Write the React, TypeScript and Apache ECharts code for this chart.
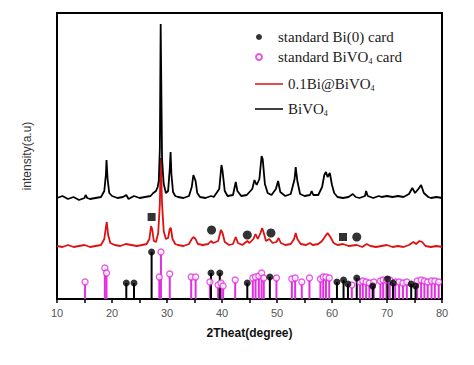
import React, { useEffect, useRef } from "react";
import * as echarts from "echarts";

// BiVO4 measured pattern (2θ, intensity a.u., offset curve)
const bivo4Curve: [number, number][] = [
  [10, 101], [11, 103], [12, 100], [13, 102], [14, 99], [15, 101], [15.2, 104], [15.5, 101], [16, 100], [17, 101], [18, 102],
  [18.6, 108], [18.9, 125], [19.0, 139], [19.2, 120], [19.5, 106], [20, 103], [21, 101], [22, 102], [22.6, 104], [23, 100],
  [24, 103], [25, 101], [26, 102], [27, 103], [27.5, 106], [28.0, 108], [28.3, 112], [28.5, 118], [28.7, 150], [28.85, 275],
  [28.95, 275], [29.1, 140], [29.4, 115], [29.8, 106], [30.2, 108], [30.5, 130], [30.65, 147], [30.8, 125], [31.1, 107],
  [31.5, 103], [32, 102], [33, 101], [34, 103], [34.5, 112], [34.8, 124], [35.2, 118], [35.5, 106], [36, 102], [37, 101],
  [38, 103], [38.5, 102], [39.5, 110], [39.9, 134], [40.1, 128], [40.5, 108], [41, 103], [42, 104], [42.5, 117], [42.8, 108],
  [43.5, 103], [44.5, 104], [45.5, 110], [45.9, 119], [46.3, 114], [46.8, 120], [47.2, 143], [47.4, 140], [47.8, 115],
  [48.3, 106], [49, 104], [49.8, 110], [50.2, 118], [50.6, 107], [51.5, 103], [52.5, 105], [53.2, 120], [53.4, 132],
  [53.7, 118], [54.2, 105], [55, 103], [56, 104], [56.3, 108], [56.6, 104], [57.5, 104], [58.2, 112], [58.6, 124],
  [58.9, 127], [59.2, 122], [59.6, 126], [60, 114], [60.4, 106], [61, 102], [62, 101], [63, 102], [63.8, 105], [64.3, 102],
  [65, 101], [66, 103], [66.2, 108], [66.5, 103], [67.5, 101], [68.5, 103], [69, 102], [70, 103], [71, 102], [72, 103],
  [73, 102], [74, 105], [74.6, 111], [75.1, 106], [75.7, 110], [76.2, 114], [76.7, 106], [77.5, 102], [78, 101], [79, 102], [80, 101],
];

// 0.1Bi@BiVO4 measured pattern
const compositeCurve: [number, number][] = [
  [10, 53], [11, 52], [12, 54], [13, 52], [14, 53], [15, 54], [16, 52], [17, 53], [18, 54], [18.6, 60], [18.9, 72], [19.05, 77],
  [19.3, 64], [19.7, 56], [20.5, 54], [21.5, 53], [22.5, 55], [23.5, 54], [24.5, 53], [25.5, 54], [26.3, 55], [26.8, 60],
  [27.1, 73], [27.3, 70], [27.6, 58], [28.0, 57], [28.4, 66], [28.7, 95], [28.85, 141], [28.95, 141], [29.1, 95], [29.4, 68],
  [29.8, 60], [30.2, 61], [30.5, 70], [30.7, 71], [31.0, 60], [31.5, 55], [32, 54], [33, 53], [34, 55], [34.5, 60], [34.8, 62],
  [35.2, 60], [35.6, 55], [36.5, 54], [37.5, 55], [38.0, 58], [38.4, 56], [39.3, 58], [39.8, 69], [40.1, 66], [40.5, 57],
  [41.3, 54], [42.0, 55], [42.5, 62], [42.9, 56], [43.7, 54], [44.6, 58], [45.0, 56], [45.7, 60], [46.1, 65], [46.5, 60],
  [47.0, 66], [47.3, 71], [47.6, 66], [48.0, 58], [48.6, 60], [49.2, 56], [49.9, 57], [50.3, 61], [50.7, 56], [51.5, 54],
  [52.5, 55], [53.1, 60], [53.4, 66], [53.7, 60], [54.3, 55], [55.3, 54], [56.0, 56], [56.5, 54], [57.5, 55], [58.2, 58],
  [58.8, 63], [59.2, 66], [59.7, 62], [60.3, 56], [61, 54], [62, 55], [63, 53], [64.5, 54], [65.5, 52], [66.3, 55], [67, 53],
  [68, 52], [69, 53], [70, 54], [71, 52], [72, 53], [73, 52], [74, 54], [74.8, 57], [75.3, 55], [75.9, 58], [76.4, 57],
  [77, 53], [78, 52], [79, 53], [80, 52],
];

// Standard card stick patterns (2θ, relative height)
const biCard: [number, number][] = [
  [22.6, 16], [24.0, 16], [27.2, 47], [38.0, 26], [39.6, 26], [44.6, 16], [48.7, 22], [60.9, 17], [62.1, 19], [62.9, 15],
  [64.5, 21], [67.4, 13], [70.1, 20], [71.1, 16], [74.4, 15], [75.2, 13],
];
const bivo4Card: [number, number][] = [
  [15.1, 17], [18.7, 31], [19.0, 26], [28.6, 22], [28.9, 47], [30.5, 25], [34.4, 22], [35.2, 22], [37.8, 17], [39.3, 14],
  [39.8, 16], [40.2, 13], [42.4, 19], [45.6, 21], [46.1, 22], [46.7, 23], [47.2, 26], [47.6, 21], [49.9, 21], [52.7, 20],
  [53.3, 21], [54.5, 17], [55.9, 21], [57.9, 20], [58.4, 22], [58.9, 22], [59.5, 21], [63.6, 14], [65.1, 17], [65.6, 18],
  [66.2, 17], [66.8, 16], [67.6, 17], [68.8, 18], [69.3, 19], [69.9, 19], [70.5, 19], [71.5, 17], [72.2, 17], [72.9, 16],
  [73.6, 17], [75.5, 18], [76.2, 19], [76.8, 18], [77.4, 17], [78.1, 18], [78.7, 18], [79.4, 17],
];

// Phase markers above the composite curve
const squareMarks: [number, number][] = [[27.2, 82], [62.0, 62]];
const dotMarks: [number, number][] = [[38.1, 69], [44.6, 64], [48.9, 66], [64.5, 62]];

const xTickLabels = [10, 20, 30, 40, 50, 60, 70, 80];

const NAME_BI = "standard Bi(0) card";
const NAME_BIVO4 = "standard BiVO4 card";
const NAME_COMP = "0.1Bi@BiVO4";
const NAME_PURE = "BiVO4";

const MAGENTA = "#e22ee2";

function stickSeries(data: [number, number][], color: string, name: string) {
  return {
    type: "custom",
    name,
    data,
    encode: { x: 0, y: 1 },
    renderItem: (params: any, api: any) => {
      const top = api.coord([api.value(0), api.value(1)]);
      const base = api.coord([api.value(0), 0]);
      return {
        type: "line",
        shape: { x1: top[0], y1: top[1], x2: base[0], y2: base[1] },
        style: { stroke: color, lineWidth: 2 },
      };
    },
  };
}

export default function App() {
  const ref = useRef<HTMLDivElement>(null);
  useEffect(() => {
    if (!ref.current) return;
    const chart = echarts.init(ref.current, null, { renderer: "svg" });
    const legendText = {
      fontFamily: "Liberation Serif",
      fontSize: 15,
      color: "#222",
      lineHeight: 16,
      rich: {
        sub: { fontFamily: "Liberation Serif", fontSize: 8, lineHeight: 6, verticalAlign: "bottom", color: "#222" },
      },
    };
    const fmt = (n: string) => n.replace(/VO4/g, "VO{sub|4}");
    chart.setOption({
      animation: false,
      backgroundColor: "#fff",
      grid: { left: 49, right: 40, top: 5, bottom: 74, show: true, borderColor: "#000", borderWidth: 2 },
      legend: [
        {
          data: [NAME_BI, NAME_BIVO4],
          orient: "vertical",
          left: 242,
          top: 16,
          itemWidth: 28,
          itemHeight: 6,
          itemGap: 4,
          textStyle: legendText,
          formatter: fmt,
        },
        {
          data: [
            { name: NAME_COMP, icon: "rect" },
            { name: NAME_PURE, icon: "rect" },
          ],
          orient: "vertical",
          left: 242,
          top: 63,
          itemWidth: 28,
          itemHeight: 1.5,
          itemGap: 9,
          textStyle: legendText,
          formatter: fmt,
        },
      ],
      xAxis: {
        type: "value",
        min: 10,
        max: 80,
        interval: 5,
        axisLine: { lineStyle: { color: "#000", width: 2 } },
        axisTick: { show: true, length: 4, lineStyle: { color: "#000", width: 1.5 } },
        axisLabel: {
          formatter: (v: number) => (xTickLabels.includes(v) ? String(v) : ""),
          color: "#555",
          fontSize: 11,
          fontFamily: "Liberation Sans",
          margin: 8,
        },
        splitLine: { show: false },
        name: "2Theat(degree)",
        nameLocation: "middle",
        nameGap: 28,
        nameTextStyle: { fontSize: 12, color: "#111", fontFamily: "Liberation Sans", fontWeight: "bold" },
      },
      yAxis: {
        type: "value",
        min: 0,
        max: 286,
        axisLabel: { show: false },
        axisTick: { show: false },
        splitLine: { show: false },
        axisLine: { show: true, lineStyle: { color: "#000", width: 2 } },
        name: "intensity(a.u)",
        nameLocation: "middle",
        nameGap: 24,
        nameTextStyle: { fontSize: 12, color: "#333", fontFamily: "Liberation Sans" },
      },
      series: [
        {
          type: "line",
          name: NAME_COMP,
          data: compositeCurve,
          symbol: "none",
          color: "#dd1111",
          lineStyle: { color: "#dd1111", width: 1.8 },
        },
        {
          type: "line",
          name: NAME_PURE,
          data: bivo4Curve,
          symbol: "none",
          color: "#000",
          lineStyle: { color: "#000", width: 1.8 },
        },
        stickSeries(bivo4Card, MAGENTA, "bivo4Sticks"),
        stickSeries(biCard, "#000", "biSticks"),
        {
          type: "scatter",
          name: NAME_BIVO4,
          data: bivo4Card,
          symbol: "circle",
          symbolSize: 6,
          itemStyle: { color: "#fff", borderColor: MAGENTA, borderWidth: 1.3 },
        },
        {
          type: "scatter",
          name: NAME_BI,
          data: biCard,
          symbol: "circle",
          symbolSize: 7,
          itemStyle: { color: "#000" },
        },
        {
          type: "scatter",
          name: "squareMarks",
          data: squareMarks,
          symbol: "rect",
          symbolSize: 8,
          itemStyle: { color: "#000" },
        },
        {
          type: "scatter",
          name: "dotMarks",
          data: dotMarks,
          symbol: "circle",
          symbolSize: 9,
          itemStyle: { color: "#000" },
        },
      ],
    });
    return () => chart.dispose();
  }, []);
  return <div ref={ref} style={{ width: 474, height: 365 }} />;
}
